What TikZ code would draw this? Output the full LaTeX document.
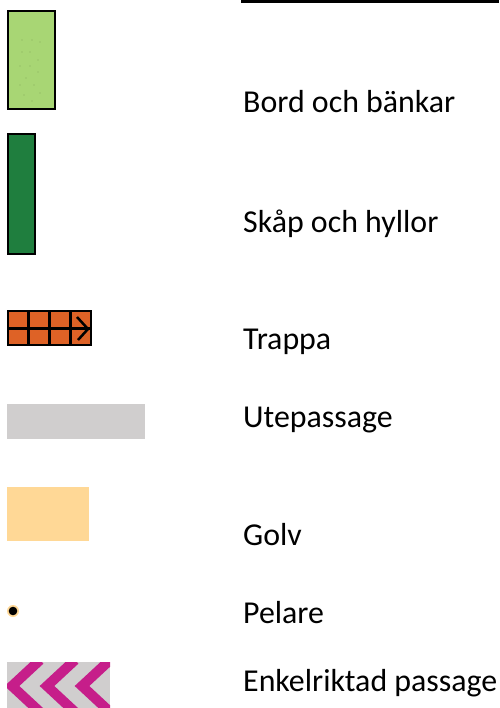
\documentclass[tikz,border=0pt]{standalone}
\usepackage{fontspec}
\setmainfont{Carlito}
\definecolor{bordgreen}{RGB}{168,214,116}
\definecolor{skapgreen}{RGB}{31,126,62}
\definecolor{trappaorange}{RGB}{222,98,38}
\definecolor{utegray}{RGB}{208,206,206}
\definecolor{golvyellow}{RGB}{255,216,150}
\definecolor{pilmagenta}{RGB}{198,30,138}
\tikzset{
  label/.style={anchor=base west, inner sep=0pt, font=\fontsize{32}{34}\selectfont},
  iconborder/.style={draw=black, line width=2bp}
}
\begin{document}
\begin{tikzpicture}[x=1bp,y=-1bp]
		\useasboundingbox (0,0) rectangle (500,708);
		% line at the top
		\fill (241,0) rectangle (499,3);
		% bord och bänkar
		\draw[iconborder, fill=bordgreen] (8,11) rectangle (55,109);
		\foreach \x/\y in {22/40,32/40,40/42,22/52,30/52,38/60,20/66,30/66,38/72,26/78,20/85,34/85,40/93,24/95,32/101}
		{
			\fill[bordgreen!80!black] (\x,\y) circle (0.6);
		}
		% skåp och hyllor
		\draw[iconborder, fill=skapgreen] (8,134) rectangle (35,254);
		% trappa
		\fill[trappaorange] (7,310) rectangle (92,346);
		\foreach \x in {28,49,70}
		{
			\draw[line width=3bp] (\x,310) -- (\x,346);
		}
		\draw[line width=3bp] (7,328) -- (92,328);
		\draw[line width=2.5bp] (77,317) -- (88,329) -- (78,340);
		\draw[iconborder] (8,311) rectangle (91,345);
		% utepassage
		\fill[utegray] (7,404) rectangle (145,439);
		% golv
		\fill[golvyellow] (7,487) rectangle (89,541);
		% pelare
		\fill[golvyellow] (13,611) circle (6);
		\fill (13,611) circle (4.3);
		% enkelriktad passage
		\fill[utegray] (7,662) rectangle (110,708);
		\begin{scope}
			\clip (7,662) rectangle (110,708);
			\foreach \x in {0,35,70}
			{
				\draw[pilmagenta, line width=10bp] (\x+40,660) -- (\x+12,686) -- (\x+40,712);
			}
		\end{scope}
		% labels
		\node[label] (bord) at (243,113) {Bord och bänkar};
		\node[label] (skap) at (243,232) {Skåp och hyllor};
		\node[label] (trappa) at (243,349) {Trappa};
		\node[label] (ute) at (243,427) {Utepassage};
		\node[label] (golv) at (243,545) {Golv};
		\node[label] (pelare) at (243,623) {Pelare};
		\node[label] (enkel) at (243,691) {Enkelriktad passage};
	\end{tikzpicture}
\end{document}
